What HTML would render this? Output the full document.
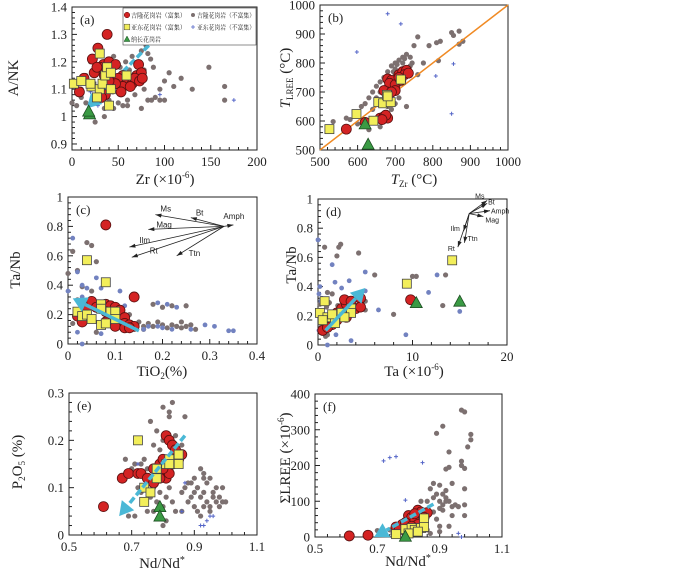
<!DOCTYPE html>
<html><head><meta charset="utf-8"><style>
html,body{margin:0;padding:0;background:#fff;}
svg{display:block;font-family:"Liberation Serif","Noto Serif CJK SC",serif;}
</style></head><body>
<svg id="c" width="700" height="571" viewBox="0 0 700 571" xmlns="http://www.w3.org/2000/svg"></svg>
<script>
// ---- panel (a) A/NK vs Zr
const aRedX=[38,28,22,34,40,47,24,30,13,35,43,55,50,60,65,72,70,75,68,73,76,55,63,47,40,8,36,32,53,27];
const aRedY=[1.30,1.25,1.21,1.19,1.20,1.19,1.16,1.18,1.14,1.15,1.14,1.15,1.14,1.13,1.12,1.19,1.15,1.16,1.14,1.13,1.14,1.11,1.11,1.12,1.13,1.09,1.08,1.07,1.09,1.18];
const aYelX=[30,2,10,21,30,33,36,38,42,59,42,27,40,20];
const aYelY=[1.23,1.12,1.13,1.11,1.10,1.12,1.15,1.18,1.16,1.15,1.10,1.07,1.04,1.12];
const aTriX=[19,18];
const aTriY=[1.01,1.02];
const aGrayX=[165,165,148,130,118,110,100,105,97,88,70,85,80,95,100,90,86,78,60,55,45,35,25,15,5,0,10,20,25,45,52,58,65,75,82,88,78,62,50,40,30,15,10,68,75,95,82,60,35,44];
const aGrayY=[1.11,1.06,1.18,1.10,1.14,1.11,1.13,1.16,1.36,1.34,1.31,1.21,1.26,1.06,1.06,1.07,1.06,1.10,1.06,1.04,1.03,1.00,0.98,1.05,1.04,1.05,1.10,1.20,1.25,1.22,1.18,1.20,1.22,1.24,1.23,1.18,1.17,1.17,1.05,1.06,1.08,1.15,1.07,1.08,1.03,1.10,1.06,1.04,1.03,1.09];
const aBlueX=[175,95,45,20,28];
const aBlueY=[1.06,1.08,1.19,1.09,1.04];
const aArrowX=[83,16];
const aArrowY=[1.26,1.03];
// ---- panel (b) T_LREE vs T_Zr
const bRedX=[570,620,660,670,680,675,665,680,690,685,700,710,720,730,725,700,680,670,690,710,715,735];
const bRedY=[572,595,610,615,610,620,605,745,740,730,725,760,770,775,760,705,700,705,700,750,740,765];
const bYelX=[525,597,642,655,668,678,688,680,715];
const bYelY=[572,624,601,665,661,690,665,685,743];
const bTriX=[620,628];
const bTriY=[590,520];
const bGrayX=[535,580,600,610,620,630,640,650,660,670,680,690,700,710,720,730,740,750,760,775,790,810,820,850,855,870,870,880,815,760,740,720,700,680,690,700,710,730,640,650,660,700,720,740,600,570,660,630,745,725,705,695];
const bGrayY=[598,605,630,650,660,680,700,720,735,750,770,790,800,810,820,830,820,860,890,800,860,870,875,905,895,910,865,875,808,760,760,780,760,650,640,660,680,650,640,680,700,780,800,790,590,610,580,570,800,815,795,770];
const bBlueX=[680,715,598,855,808,850];
const bBlueY=[970,935,838,797,755,625];
// ---- panel (c) Ta/Nb vs TiO2
const cRedX=[0.08,0.14,0.02,0.03,0.03,0.04,0.05,0.06,0.07,0.08,0.09,0.10,0.11,0.08,0.09,0.10,0.11,0.12,0.12,0.13,0.14,0.10,0.08,0.12,0.13];
const cRedY=[0.81,0.32,0.19,0.15,0.20,0.25,0.29,0.25,0.24,0.27,0.26,0.25,0.23,0.22,0.19,0.18,0.16,0.18,0.14,0.13,0.12,0.12,0.15,0.11,0.11];
const cYelX=[0.04,0.08,0.02,0.03,0.04,0.05,0.07,0.07,0.07,0.08,0.09,0.10,0.10];
const cYelY=[0.57,0.42,0.22,0.19,0.20,0.17,0.27,0.24,0.13,0.14,0.22,0.22,0.17];
const cGrayX=[0.04,0.05,0.06,0.01,0.02,0.00,0.03,0.05,0.18,0.20,0.22,0.25,0.16,0.17,0.18,0.20,0.21,0.22,0.23,0.24,0.25,0.26,0.27,0.15,0.13,0.01,0.02,0.06,0.16,0.19,0.24];
const cGrayY=[0.69,0.67,0.56,0.63,0.50,0.48,0.39,0.36,0.27,0.25,0.26,0.26,0.12,0.14,0.12,0.13,0.11,0.13,0.12,0.11,0.12,0.13,0.10,0.15,0.20,0.14,0.30,0.08,0.10,0.15,0.15];
const cBlueX=[0.01,0.02,0.03,0.04,0.06,0.07,0.11,0.12,0.19,0.21,0.23,0.29,0.31,0.34,0.35,0.16,0.19,0.22,0.26,0.02,0.03,0.07,0.00,0.03,0.17,0.20];
const cBlueY=[0.72,0.49,0.40,0.38,0.45,0.38,0.36,0.26,0.28,0.27,0.25,0.13,0.12,0.09,0.09,0.10,0.12,0.10,0.10,0.08,0.00,0.07,0.36,0.32,0.12,0.11];
const cArrowX=[0.15,0.01];
const cArrowY=[0.09,0.31];
const cVecNames=["Ms","Bt","Amph","Mag","Ilm","Rt","Ttn"];
const cVecX=[0.185,0.26,0.35,0.17,0.13,0.135,0.23];
const cVecY=[0.88,0.86,0.81,0.78,0.66,0.59,0.60];
const cVecOrigin=[0.33,0.80];
// ---- panel (d) Ta/Nb vs Ta
const dRedX=[9.8,0.5,1,1.5,2,2.5,3,2.8,3.5,4.5,4,4.5,2,1.5,3,1,2.5];
const dRedY=[0.31,0.10,0.15,0.20,0.22,0.25,0.28,0.31,0.30,0.32,0.25,0.26,0.17,0.14,0.19,0.12,0.20];
const dYelX=[14.2,9.4,0.7,0.2,1,0.5,1.8,2.5,3.5,3.5,1.5,2.8];
const dYelY=[0.58,0.42,0.30,0.22,0.19,0.17,0.15,0.22,0.25,0.22,0.21,0.19];
const dTriX=[10.4,15];
const dTriY=[0.29,0.30];
const dGrayX=[0.7,2.2,2.4,4.3,2,1,1.5,6,10,10.4,13.5,13.2,8,5,5,0.5,0.8,1,0.3,0.2,1.2,2.1,0.9];
const dGrayY=[0.67,0.67,0.69,0.63,0.61,0.36,0.35,0.48,0.47,0.47,0.48,0.27,0.21,0.30,0.24,0.08,0.06,0.07,0.12,0.28,0.29,0.27,0.26];
const dBlueX=[0,0.2,0.1,0.3,1.5,1.8,2.5,3.3,5,5,6.4,11.7,12.6,15,9.3,1,3.5,0.1,0.3,1.9,0.4];
const dBlueY=[0.72,0.40,0.35,0.30,0.55,0.43,0.39,0.44,0.50,0.37,0.24,0.36,0.48,0.23,0.07,0.00,0.03,0.10,0.15,0.07,0.32];
const dArrowX=[0.8,5];
const dArrowY=[0.10,0.39];
const dVecNames=["Ms","Bt","Amph","Mag","Ilm","Rt","Ttn"];
const dVecX=[17.9,17.9,18.2,17.5,15.4,14.8,15.5];
const dVecY=[0.99,0.97,0.92,0.88,0.78,0.67,0.70];
const dVecOrigin=[16,0.90];
// ---- panel (e) P2O5 vs Nd/Nd*
const eRedX=[0.61,0.67,0.69,0.72,0.73,0.75,0.77,0.77,0.79,0.80,0.81,0.82,0.83,0.84,0.85,0.86,0.81,0.82,0.80,0.83,0.79];
const eRedY=[0.06,0.12,0.13,0.13,0.13,0.12,0.11,0.14,0.15,0.16,0.21,0.20,0.19,0.18,0.16,0.17,0.12,0.13,0.14,0.15,0.12];
const eYelX=[0.72,0.74,0.76,0.74,0.78,0.78,0.81,0.82,0.82,0.85,0.85];
const eYelY=[0.20,0.10,0.09,0.07,0.12,0.14,0.15,0.16,0.15,0.17,0.15];
const eTriX=[0.79,0.79];
const eTriY=[0.06,0.04];
const eGrayX=[0.80,0.82,0.83,0.82,0.87,0.76,0.78,0.80,0.77,0.79,0.84,0.86,0.68,0.70,0.71,0.73,0.74,0.75,0.72,0.73,0.76,0.77,0.78,0.80,0.81,0.83,0.69,0.71,0.75,0.77,0.79,0.81,0.84,0.86,0.80,0.79,0.82,0.88,0.89,0.90,0.91,0.92,0.93,0.94,0.95,0.96,0.97,0.98,0.99,1.00,0.89,0.90,0.91,0.92,0.93,0.94,0.95,0.96,0.97,0.98,0.91,0.92,0.93,0.90,0.87,0.88,0.86,0.95,0.99,0.93];
const eGrayY=[0.27,0.26,0.28,0.25,0.25,0.24,0.22,0.20,0.19,0.18,0.21,0.19,0.16,0.14,0.15,0.15,0.16,0.14,0.10,0.09,0.08,0.10,0.07,0.06,0.08,0.07,0.04,0.04,0.05,0.05,0.04,0.03,0.05,0.05,0.02,0.09,0.10,0.07,0.08,0.09,0.10,0.08,0.09,0.07,0.06,0.08,0.07,0.06,0.10,0.07,0.11,0.12,0.10,0.14,0.13,0.11,0.12,0.09,0.10,0.08,0.05,0.04,0.06,0.06,0.10,0.11,0.09,0.05,0.07,0.12];
const eBlueX=[0.72,0.87,0.86,0.92,0.93,0.94,0.96,0.95];
const eBlueY=[0.15,0.11,0.05,0.02,0.02,0.03,0.04,0.04];
const eArrowX=[0.87,0.66];
const eArrowY=[0.21,0.04];
// ---- panel (f) SumLREE vs Nd/Nd*
const fRedX=[0.61,0.67,0.76,0.78,0.80,0.81,0.82,0.83,0.84,0.86,0.82,0.79,0.83,0.81,0.77,0.85];
const fRedY=[3,5,28,35,60,55,45,75,70,68,65,40,35,30,20,55];
const fYelX=[0.76,0.79,0.81,0.82,0.84,0.85,0.85,0.83,0.80];
const fYelY=[8,22,25,20,25,52,28,15,10];
const fTriX=[0.79];
const fTriY=[2];
const fGrayX=[0.97,0.98,0.91,0.89,1.00,1.00,0.99,0.93,0.97,0.97,0.98,0.92,0.93,0.94,0.98,0.88,0.90,0.92,0.95,0.98,0.98,0.93,0.90,0.87,0.86,0.88,0.90,0.91,0.92,0.93,0.94,0.90,0.88,0.89,0.85,0.84,0.72,0.74,0.70,0.75,0.80,0.86,0.87,0.90,0.92,0.91,0.96,0.89,0.91,0.94];
const fGrayY=[355,350,310,290,287,272,252,238,212,200,192,190,195,150,135,150,145,130,90,90,60,30,30,135,100,110,100,120,110,100,85,80,70,50,40,100,15,20,18,10,5,20,10,15,100,90,85,120,75,60];
const fBlueX=[0.72,0.74,0.76,0.845,0.79,0.96,0.97];
const fBlueY=[213,222,225,208,103,10,0];
const fArrowX=[0.88,0.69];
const fArrowY=[92,0];

const svg=document.getElementById('c');
const NS='http://www.w3.org/2000/svg';
function mk(tag,attrs,parent){const e=document.createElementNS(NS,tag);for(const k in attrs)e.setAttribute(k,attrs[k]);(parent||svg).appendChild(e);return e;}

function axes(p){
  const g=mk('g',{});
  
  
  p.sx=v=>p.x0+(v-p.xmin)/(p.xmax-p.xmin)*(p.x1-p.x0);
  p.sy=v=>p.y0-(v-p.ymin)/(p.ymax-p.ymin)*(p.y0-p.y1);
  p.g=g;
  const fr=mk('rect',{x:p.x0,y:p.y1,width:p.x1-p.x0,height:p.y0-p.y1,fill:'none',stroke:'#222','stroke-width':1},g);
  
  
  p.xt.forEach((v,i)=>{
    const x=p.sx(v);
    mk('line',{x1:x,x2:x,y1:p.y0,y2:p.y0-5,stroke:'#222'},g);
    if(i<p.xt.length-1){for(let k=1;k<5;k++){const xm=p.sx(v+(p.xt[1]-p.xt[0])*k/5);mk('line',{x1:xm,x2:xm,y1:p.y0,y2:p.y0-3,stroke:'#222'},g);}}
    const t=mk('text',{x:x,y:p.y0+16,'text-anchor':'middle','font-size':13,fill:'#222'},g);
    t.textContent=p.xl[i];
    
    
  });
  p.yt.forEach((v,i)=>{
    const y=p.sy(v);
    mk('line',{x1:p.x0,x2:p.x0+5,y1:y,y2:y,stroke:'#222'},g);
    if(i<p.yt.length-1){for(let k=1;k<5;k++){const ym=p.sy(v+(p.yt[1]-p.yt[0])*k/5);mk('line',{x1:p.x0,x2:p.x0+3,y1:ym,y2:ym,stroke:'#222'},g);}}
    const t=mk('text',{x:p.x0-5,y:y+4.5,'text-anchor':'end','font-size':13,fill:'#222'},g);
    t.textContent=p.yl[i];
    
    
  });
  const lab=mk('text',{x:p.x0+8,y:p.y1+17,'font-size':13,fill:'#222'},g);
  lab.textContent='('+p.id+')';
  
  
}
function pts(p,xs,ys,type){
  const g=mk('g',{},p.g);
  
  
  xs.forEach((v,i)=>{
    const x=p.sx(v),y=p.sy(ys[i]);let e;
    if(type==='red')e=mk('circle',{cx:x,cy:y,r:5,fill:'#d42323',stroke:'#5a1010','stroke-width':0.8},g);
    else if(type==='yellow')e=mk('rect',{x:x-4.5,y:y-4.5,width:9,height:9,fill:'#f2ee5a',stroke:'#444','stroke-width':0.8},g);
    else if(type==='tri')e=mk('polygon',{points:`${x},${y-6} ${x-6},${y+5} ${x+6},${y+5}`,fill:'#3a9a44',stroke:'#1d4d22','stroke-width':0.8},g);
    else if(type==='gray')e=mk('circle',{cx:x,cy:y,r:2.6,fill:'#7c7070'},g);
    else if(type==='blue'){
      if(p.blueDots)e=mk('circle',{cx:x,cy:y,r:2.4,fill:'#7282c0'},g);
      else e=mk('path',{d:`M${x-2},${y}H${x+2}M${x},${y-2}V${y+2}`,stroke:'#5566c8','stroke-width':1},g);
    }
    
    
  });
}
function arrow(p,xs,ys,dashed){
  const x1=p.sx(xs[0]),y1=p.sy(ys[0]),x2=p.sx(xs[1]),y2=p.sy(ys[1]);
  const a=Math.atan2(y2-y1,x2-x1),L=14,W=8;
  const bx=x2-L*Math.cos(a),by=y2-L*Math.sin(a);
  const ln=mk('line',{x1:x1,y1:y1,x2:bx,y2:by,stroke:'#4ab8d6','stroke-width':3.5,'stroke-dasharray':dashed?'7 3':'none'},p.g);
  
  
  const hd=mk('polygon',{points:`${x2},${y2} ${bx+W*Math.sin(a)},${by-W*Math.cos(a)} ${bx-W*Math.sin(a)},${by+W*Math.cos(a)}`,fill:'#4ab8d6'},p.g);
  
  
}
function vectors(p,o,xs,ys,names,fs,offs){
  const ox=p.sx(o[0]),oy=p.sy(o[1]);
  xs.forEach((v,i)=>{
    const x=p.sx(v),y=p.sy(ys[i]);
    const a=Math.atan2(y-oy,x-ox);
    const l=mk('line',{x1:ox,y1:oy,x2:x,y2:y,stroke:'#222','stroke-width':0.8},p.g);
    
    
    mk('polygon',{points:`${x},${y} ${x-6*Math.cos(a)+2*Math.sin(a)},${y-6*Math.sin(a)-2*Math.cos(a)} ${x-6*Math.cos(a)-2*Math.sin(a)},${y-6*Math.sin(a)+2*Math.cos(a)}`,fill:'#222'},p.g);
    const t=mk('text',{x:x+offs[i][0],y:y+offs[i][1],'font-size':fs,'font-family':'Liberation Sans, sans-serif',fill:'#222'},p.g);
    t.textContent=names[i];
    
    
  });
}
function title(x,y,rot,html,size){
  const t=mk('text',{x:x,y:y,'text-anchor':'middle','font-size':size||15,fill:'#222',transform:rot?`rotate(-90 ${x} ${y})`:''});
  t.innerHTML=html;
  
  
}

const A={id:'a',x0:72,x1:257,y0:150,y1:7,xmin:0,xmax:200,ymin:0.878,ymax:1.4,xt:[0,50,100,150,200],xl:['0','50','100','150','200'],yt:[0.9,1,1.1,1.2,1.3,1.4],yl:['0.9','1','1.1','1.2','1.3','1.4']};
const B={id:'b',x0:320,x1:508,y0:150,y1:5,xmin:500,xmax:1000,ymin:500,ymax:1000,xt:[500,600,700,800,900,1000],xl:['500','600','700','800','900','1000'],yt:[500,600,700,800,900,1000],yl:['500','600','700','800','900','1000']};
const C={id:'c',x0:68,x1:257,y0:344,y1:197,xmin:0,xmax:0.4,ymin:0,ymax:1,xt:[0,0.1,0.2,0.3,0.4],xl:['0','0.1','0.2','0.3','0.4'],yt:[0,0.2,0.4,0.6,0.8,1],yl:['0','0.2','0.4','0.6','0.8','1'],blueDots:true};
const D={id:'d',x0:318,x1:507,y0:345,y1:199,xmin:0,xmax:20,ymin:0,ymax:1,xt:[0,10,20],xl:['0','10','20'],yt:[0,0.2,0.4,0.6,0.8,1],yl:['0','0.2','0.4','0.6','0.8','1'],blueDots:true};
const E={id:'e',x0:69,x1:257,y0:535,y1:393,xmin:0.5,xmax:1.1,ymin:0,ymax:0.3,xt:[0.5,0.7,0.9,1.1],xl:['0.5','0.7','0.9','1.1'],yt:[0,0.1,0.2,0.3],yl:['0','0.1','0.2','0.3']};
const F={id:'f',x0:315,x1:502,y0:537,y1:394,xmin:0.5,xmax:1.1,ymin:0,ymax:400,xt:[0.5,0.7,0.9,1.1],xl:['0.5','0.7','0.9','1.1'],yt:[0,100,200,300,400],yl:['0','100','200','300','400']};

// (a)
axes(A);
pts(A,aGrayX,aGrayY,'gray');pts(A,aBlueX,aBlueY,'blue');
arrow(A,aArrowX,aArrowY,true);
pts(A,aRedX,aRedY,'red');pts(A,aYelX,aYelY,'yellow');pts(A,aTriX,aTriY,'tri');
// legend
(function(){
  const g=mk('g',{});
  
  
  mk('rect',{x:123,y:8,width:133,height:37,fill:'#fff',stroke:'#444','stroke-width':0.6},g);
  const items=[['red',127,15,'吉隆花岗岩（富集）',55],['gray',193,15,'吉隆花岗岩（不富集）',58],['yellow',127,27,'亚东花岗岩（富集）',55],['blue',193,27,'亚东花岗岩（不富集）',58],['tri',127,39,'纳长花岗岩',30]];
  items.forEach(it=>{
    const [t,x,y,s,w]=it;let m;
    if(t==='red')m=mk('circle',{cx:x,cy:y,r:2.8,fill:'#d42323',stroke:'#5a1010','stroke-width':0.5},g);
    if(t==='gray')m=mk('circle',{cx:x,cy:y,r:2,fill:'#7c7070'},g);
    if(t==='yellow')m=mk('rect',{x:x-2.8,y:y-2.8,width:5.6,height:5.6,fill:'#f2ee5a',stroke:'#444','stroke-width':0.5},g);
    if(t==='blue')m=mk('path',{d:`M${x-2},${y}H${x+2}M${x},${y-2}V${y+2}`,stroke:'#5566c8','stroke-width':0.8},g);
    if(t==='tri')m=mk('polygon',{points:`${x},${y-3} ${x-3},${y+2.5} ${x+3},${y+2.5}`,fill:'#3a9a44',stroke:'#1d4d22','stroke-width':0.5},g);
    
    
    const tx=mk('text',{x:x+4,y:y+2.5,'font-size':6.5,textLength:w,lengthAdjust:'spacingAndGlyphs','font-family':'Noto Serif CJK SC, serif',fill:'#222'},g);
    tx.textContent=s;
    
    
  });
})();
title(18,78,true,'A/NK');
title(165,184,false,'Zr (×10<tspan dy="-6" font-size="9">-6</tspan><tspan dy="6">)</tspan>');

// (b)
axes(B);
pts(B,bGrayX,bGrayY,'gray');pts(B,bBlueX,bBlueY,'blue');
(function(){const l=mk('line',{x1:B.sx(500),y1:B.sy(500),x2:B.sx(1000),y2:B.sy(1000),stroke:'#f08a24','stroke-width':1.5},B.g);})();
pts(B,bRedX,bRedY,'red');pts(B,bYelX,bYelY,'yellow');pts(B,bTriX,bTriY,'tri');
title(290,78,true,'<tspan font-style="italic">T</tspan><tspan font-size="9" dy="3">LREE</tspan><tspan dy="-3"> (°C)</tspan>');
title(414,184,false,'<tspan font-style="italic">T</tspan><tspan font-size="9" dy="3">Zr</tspan><tspan dy="-3"> (°C)</tspan>');

// (c)
axes(C);
pts(C,cGrayX,cGrayY,'gray');pts(C,cBlueX,cBlueY,'blue');
pts(C,cRedX,cRedY,'red');pts(C,cYelX,cYelY,'yellow');
arrow(C,cArrowX,cArrowY,false);
vectors(C,cVecOrigin,cVecX,cVecY,cVecNames,8,[[5,-3],[5,-2],[-10,-6],[8,-2],[10,-4],[18,-4],[12,0]]);
title(20,270,true,'Ta/Nb');
title(162,376,false,'TiO<tspan font-size="9" dy="3">2</tspan><tspan dy="-3">(%)</tspan>');

// (d)
axes(D);
pts(D,dGrayX,dGrayY,'gray');pts(D,dBlueX,dBlueY,'blue');
pts(D,dRedX,dRedY,'red');pts(D,dYelX,dYelY,'yellow');pts(D,dTriX,dTriY,'tri');
arrow(D,dArrowX,dArrowY,false);
vectors(D,dVecOrigin,dVecX,dVecY,dVecNames,7,[[-12,-2],[1,1],[1,3],[2,6],[-13,0],[-10,4],[3,-2]]);
title(296,265,true,'Ta/Nb');
title(414,376,false,'Ta (×10<tspan dy="-6" font-size="9">-6</tspan><tspan dy="6">)</tspan>');

// (e)
axes(E);
pts(E,eGrayX,eGrayY,'gray');pts(E,eBlueX,eBlueY,'blue');
pts(E,eRedX,eRedY,'red');pts(E,eYelX,eYelY,'yellow');pts(E,eTriX,eTriY,'tri');
arrow(E,eArrowX,eArrowY,true);
title(22,462,true,'P<tspan font-size="9" dy="3">2</tspan><tspan dy="-3">O</tspan><tspan font-size="9" dy="3">5</tspan><tspan dy="-3"> (%)</tspan>');
title(162,568,false,'Nd/Nd<tspan dy="-5" font-size="10">*</tspan>');

// (f)
axes(F);
pts(F,fGrayX,fGrayY,'gray');pts(F,fBlueX,fBlueY,'blue');
pts(F,fRedX,fRedY,'red');pts(F,fYelX,fYelY,'yellow');pts(F,fTriX,fTriY,'tri');
arrow(F,fArrowX,fArrowY,true);
title(290,458,true,'ΣLREE (×10<tspan dy="-6" font-size="9">-6</tspan><tspan dy="6">)</tspan>');
title(408,566,false,'Nd/Nd<tspan dy="-5" font-size="10">*</tspan>');
</script>
</body></html>
